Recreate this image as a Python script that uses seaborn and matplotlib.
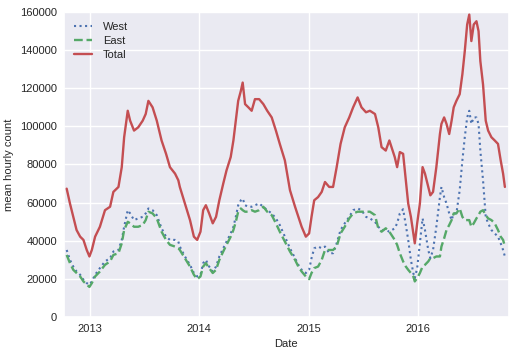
import pandas as pd
import matplotlib
matplotlib.use('Agg')
import matplotlib.pyplot as plt
import matplotlib.dates as mdates
import seaborn as sns

# values
dates = [
    '2012-10-15', '2012-10-26', '2012-11-06', '2012-11-17', '2012-11-29', '2012-12-10',
    '2012-12-21', '2012-12-30', '2013-01-07', '2013-01-18', '2013-02-03', '2013-02-20',
    '2013-03-09', '2013-03-20', '2013-04-06', '2013-04-17', '2013-04-25', '2013-05-07',
    '2013-05-15', '2013-05-28', '2013-06-11', '2013-06-26', '2013-07-06', '2013-07-15',
    '2013-07-29', '2013-08-12', '2013-08-28', '2013-09-12', '2013-09-25', '2013-10-12',
    '2013-10-23',
    '2013-10-28', '2013-11-14', '2013-12-01', '2013-12-14', '2013-12-25', '2014-01-05',
    '2014-01-14', '2014-01-23', '2014-02-03', '2014-02-15', '2014-02-26', '2014-03-09',
    '2014-03-22', '2014-04-02', '2014-04-16', '2014-04-25', '2014-05-03', '2014-05-11',
    '2014-05-20', '2014-05-26', '2014-06-03', '2014-06-14', '2014-06-25', '2014-07-06',
    '2014-07-20', '2014-08-03', '2014-08-16', '2014-08-31', '2014-09-14', '2014-09-27',
    '2014-10-14',
    '2014-10-31', '2014-11-17', '2014-11-28', '2014-12-09', '2014-12-23', '2015-01-03',
    '2015-01-11', '2015-01-20', '2015-02-02', '2015-02-14', '2015-02-25', '2015-03-11',
    '2015-03-24', '2015-04-05', '2015-04-18', '2015-05-02', '2015-05-17', '2015-05-30',
    '2015-06-14', '2015-06-27', '2015-07-12', '2015-07-25', '2015-08-11', '2015-08-22',
    '2015-09-02', '2015-09-16', '2015-09-28',
    '2015-10-16', '2015-10-24', '2015-11-02', '2015-11-13', '2015-11-22', '2015-11-30',
    '2015-12-09', '2015-12-17', '2015-12-22', '2015-12-30', '2016-01-08', '2016-01-17',
    '2016-01-25', '2016-02-05', '2016-02-12', '2016-02-21', '2016-03-03', '2016-03-15',
    '2016-03-20', '2016-03-29', '2016-04-06', '2016-04-15', '2016-04-23', '2016-04-30',
    '2016-05-09', '2016-05-20', '2016-05-29', '2016-06-06', '2016-06-14', '2016-06-21',
    '2016-06-28', '2016-07-06', '2016-07-15', '2016-07-22', '2016-07-28', '2016-08-06',
    '2016-08-15', '2016-08-23', '2016-09-03', '2016-09-14', '2016-09-25', '2016-10-04',
    '2016-10-12', '2016-10-18',
]

west = [
    35100, 29900, 26400, 23800, 22100, 19500, 17700, 16900, 18600, 22100, 25600, 29100,
    30800, 34300, 35100, 40400, 47300, 56000, 54300, 50800, 51700, 52500, 54300, 56900,
    56000, 53400, 46500, 42100, 40400, 40400, 39500,
    36900, 31700, 27300, 23000, 21200, 22100, 28200, 29900, 26400, 23800, 26400, 31700,
    36000, 39500, 43800, 47300, 52500, 58600, 61200, 62100, 58600, 57800, 57800, 58600,
    59500, 57800, 56000, 54300, 51700, 48200, 42100,
    36000, 30800, 27300, 24700, 23000, 24700, 30800, 36000, 36900, 36000, 36900, 33400,
    33400, 38600, 45600, 49100, 52500, 56000, 56900, 56000, 52500, 51700, 49900, 47300,
    45600, 45600, 44700,
    46500, 49100, 54300, 56500, 48200, 40400, 29900, 23000, 20300, 25600, 38600, 51700,
    45600, 35100, 30800, 35100, 47300, 62900, 68200, 62900, 59500, 54300, 50800, 54300,
    54300, 66500, 82100, 94300, 104700, 108200, 101300, 104700, 104700, 101300, 87300, 71700,
    52500, 49100, 45600, 43800, 42100, 38600, 35100, 31700,
]

east = [
    32500, 28200, 24700, 23000, 21200, 18600, 16900, 15700, 17700, 21200, 23800, 27300,
    29100, 32500, 33400, 38600, 45600, 49900, 49100, 47300, 47300, 48200, 50800, 55200,
    54300, 51700, 44700, 40400, 37800, 36900, 36000,
    35100, 30800, 26400, 22100, 19800, 21200, 26400, 28200, 25600, 23000, 24700, 29900,
    34300, 37800, 42100, 45600, 49900, 55200, 56900, 56000, 55200, 55200, 56000, 55200,
    56000, 57800, 55200, 53400, 49100, 44700, 39500,
    34300, 29900, 26400, 23800, 21200, 19800, 23000, 25600, 26400, 29900, 35100, 35100,
    35100, 36900, 43800, 47300, 51700, 54300, 55200, 55200, 55200, 55200, 53400, 46500,
    44700, 46500, 44700,
    40400, 37800, 33400, 29100, 26400, 24700, 23000, 21200, 18600, 20300, 23000, 26400,
    27300, 29100, 30800, 30800, 31700, 31700, 36900, 41200, 45600, 48200, 50800, 54300,
    54300, 56900, 52500, 50800, 50800, 50800, 47300, 49100, 51700, 53400, 55200, 56000,
    53400, 51700, 50800, 49100, 45600, 42100, 40400, 36900,
]

total = [
    67300, 59500, 52500, 45600, 42100, 40400, 35100, 31700, 35100, 42100, 47300, 56000,
    57800, 65600, 68200, 78600, 94300, 108200, 103000, 97800, 99500, 103000, 106500, 113400,
    110000, 103000, 92600, 85600, 78600, 75200, 71700,
    68200, 59500, 50800, 42100, 40400, 44700, 56000, 58600, 54300, 49100, 52500, 61200,
    69900, 76900, 83900, 92600, 103000, 113400, 118700, 123000, 111700, 110000, 108200, 114300,
    114300, 111700, 108200, 104700, 97800, 90800, 82100,
    66500, 57800, 52500, 47300, 42100, 43800, 52500, 61200, 62900, 65600, 70800, 68200,
    68200, 78600, 90800, 99500, 104700, 110000, 115200, 110000, 107400, 108200, 106500, 99500,
    89100, 87300, 92600,
    83900, 78600, 86500, 85600, 71700, 59500, 52500, 43800, 38600, 49100, 59500, 78600,
    75200, 68200, 63800, 65600, 78600, 96000, 101300, 104700, 101300, 96000, 103000, 110000,
    113400, 116900, 127400, 139500, 153500, 158700, 144800, 153500, 155200, 150000, 134300, 122000,
    103000, 97800, 94300, 92600, 90800, 82100, 75200, 68200,
]

df = pd.DataFrame({'Date': pd.to_datetime(dates), 'West': west, 'East': east, 'Total': total})

sns.set_theme(style='darkgrid')
plt.rcParams['font.family'] = ['Liberation Sans', 'DejaVu Sans']
plt.rcParams['font.size'] = 8

fig, ax = plt.subplots(figsize=(5.16, 3.56), dpi=100)
fig.subplots_adjust(left=0.124, right=0.986, bottom=0.110, top=0.966)

sns.lineplot(data=df, x='Date', y='West', ax=ax, color='#4C72B0', linestyle=':', linewidth=1.5, label='West')
sns.lineplot(data=df, x='Date', y='East', ax=ax, color='#55A868', linestyle='--', linewidth=1.7, label='East')
sns.lineplot(data=df, x='Date', y='Total', ax=ax, color='#C44E52', linestyle='-', linewidth=1.7, label='Total')

ax.set_xlim(pd.Timestamp('2012-10-06'), pd.Timestamp('2016-10-31'))
ax.set_ylim(0, 160000)
ax.set_yticks(range(0, 160001, 20000))
ax.xaxis.set_major_locator(mdates.YearLocator())
ax.xaxis.set_major_formatter(mdates.DateFormatter('%Y'))
ax.tick_params(axis='both', labelsize=8, length=0, pad=5, labelcolor='#262626')
ax.set_xlabel('Date', fontsize=8, color='#262626')
ax.set_ylabel('mean hourly count', fontsize=8, color='#262626')
ax.legend(loc='upper left', frameon=False, fontsize=8, handlelength=1.6,
          handletextpad=1.0, labelspacing=0.35)

fig.savefig('out.png', dpi=100)
